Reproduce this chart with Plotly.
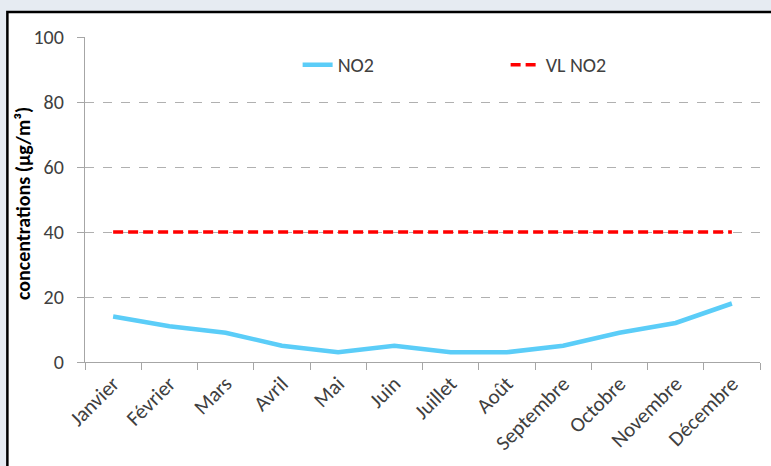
import plotly.graph_objects as go

# Monthly NO2 concentrations and the annual limit value (µg/m³)
mois = ["Janvier", "Février", "Mars", "Avril", "Mai", "Juin", "Juillet",
        "Août", "Septembre", "Octobre", "Novembre", "Décembre"]
no2 = [14, 11, 9, 5, 3, 5, 3, 3, 5, 9, 12, 18]
vl_no2 = [40] * 12
y_ticks = [0, 20, 40, 60, 80, 100]
y_title = "concentrations (µg/m³)"

FONT = "Carlito, 'Liberation Sans Narrow', 'Open Sans', sans-serif"
AXIS_GREY = "#a6a6a6"

fig = go.Figure()
fig.add_trace(go.Scatter(
    x=mois, y=no2, name="NO2", mode="lines",
    line=dict(color="#5bcdf8", width=4.5),
))
fig.add_trace(go.Scatter(
    x=mois, y=vl_no2, name="VL NO2", mode="lines",
    line=dict(color="#ff0000", width=3.5, dash="10px,5px"),
))

# white chart panel with a black frame over a bluish page
fig.add_shape(type="rect", xref="paper", yref="paper",
              x0=-0.115, x1=1.1, y0=-0.5, y1=1.077,
              line=dict(color="black", width=2.5), fillcolor="white",
              layer="below")

# vertical axis title
fig.add_annotation(text=f"<b>{y_title}</b>", xref="paper", yref="paper",
                   x=-0.091, y=0.488, xanchor="center", yanchor="middle",
                   textangle=-90, showarrow=False,
                   font=dict(family=FONT, size=20, color="black"))

fig.update_layout(
    width=771, height=466,
    margin=dict(l=85, r=11, t=37, b=104),
    paper_bgcolor="#e6ebf2",
    plot_bgcolor="rgba(0,0,0,0)",
    font=dict(family=FONT, size=19, color="#404040"),
    showlegend=True,
    legend=dict(orientation="h", x=0.315, y=0.915, xanchor="left", yanchor="middle",
                bgcolor="rgba(0,0,0,0)", font=dict(size=20, color="#404040"),
                entrywidth=163, entrywidthmode="pixels"),
    xaxis=dict(
        type="category", range=[-0.5, 11.5],
        showline=True, linecolor=AXIS_GREY, linewidth=1.3,
        ticks="outside", tickson="boundaries", ticklen=7, tickcolor=AXIS_GREY,
        tickangle=-45, tickfont=dict(size=21, color="#404040"),
        showgrid=False, zeroline=False, automargin=False,
    ),
    yaxis=dict(
        range=[0, 100], tickvals=y_ticks,
        ticktext=[f"{v}\u00a0\u00a0" for v in y_ticks],
        showline=True, linecolor=AXIS_GREY, linewidth=1.3,
        ticks="outside", ticklen=7, tickcolor=AXIS_GREY,
        showgrid=True, gridcolor="#b0b0b0", griddash="dash", gridwidth=1,
        zeroline=False, automargin=False,
        tickfont=dict(size=20, color="#404040"),
    ),
)

fig.write_html("out.html")
